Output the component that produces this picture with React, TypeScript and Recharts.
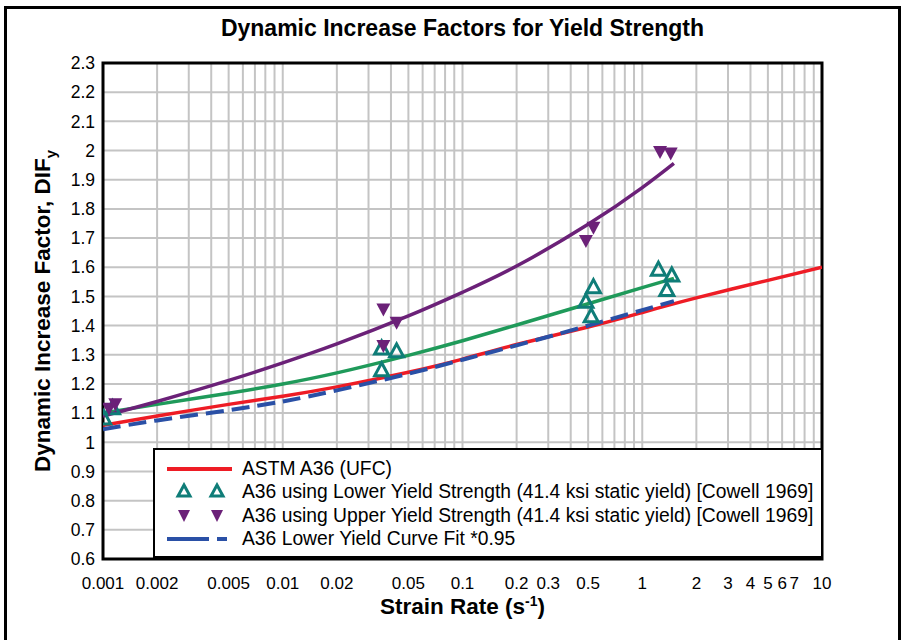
import React from 'react';
import { ComposedChart, Line, Scatter, XAxis, YAxis, CartesianGrid, ReferenceArea, Label } from 'recharts';

// ---- Data ----
const gridRates = [
  0.001, 0.002, 0.003, 0.004, 0.005, 0.006, 0.007, 0.008, 0.009,
  0.01, 0.02, 0.03, 0.04, 0.05, 0.06, 0.07, 0.08, 0.09,
  0.1, 0.2, 0.3, 0.4, 0.5, 0.6, 0.7, 0.8, 0.9,
  1, 2, 3, 4, 5, 6, 7, 8, 9, 10,
];
const xLabelValues = [0.001, 0.002, 0.005, 0.01, 0.02, 0.05, 0.1, 0.2, 0.3, 0.5, 1, 2, 3, 4, 5, 6, 7, 10];
const yTicks = [0.6, 0.7, 0.8, 0.9, 1.0, 1.1, 1.2, 1.3, 1.4, 1.5, 1.6, 1.7, 1.8, 1.9, 2.0, 2.1, 2.2, 2.3];

const ufcRates = [0.001, 0.002, 0.005, 0.01, 0.02, 0.05, 0.1, 0.2, 0.5, 1, 2, 5, 10];
const ufcDIF = [1.058, 1.09, 1.13, 1.158, 1.19, 1.24, 1.285, 1.335, 1.395, 1.445, 1.495, 1.555, 1.6];

const fitRates = [0.001, 0.002, 0.005, 0.01, 0.02, 0.05, 0.1, 0.2, 0.5, 1, 1.5];
const lowerFitDIF = [1.1, 1.13, 1.168, 1.2, 1.238, 1.298, 1.348, 1.402, 1.475, 1.53, 1.562];
const upperFitDIF = [1.09, 1.14, 1.212, 1.272, 1.337, 1.433, 1.514, 1.604, 1.747, 1.873, 1.956];
const lowerFit95DIF = [1.045, 1.075, 1.11, 1.14, 1.178, 1.235, 1.283, 1.332, 1.4, 1.453, 1.484];

const lowerPtRates = [0.00101, 0.00113, 0.0355, 0.043, 0.0355, 0.535, 0.486, 0.52, 1.23, 1.46, 1.37];
const lowerPtDIF = [1.08, 1.115, 1.32, 1.31, 1.245, 1.53, 1.48, 1.43, 1.59, 1.57, 1.52];

const upperPtRates = [0.00108, 0.00117, 0.0363, 0.043, 0.0363, 0.535, 0.486, 1.256, 1.44];
const upperPtDIF = [1.115, 1.13, 1.455, 1.41, 1.33, 1.735, 1.69, 1.995, 1.99];

const legendLabels = [
  'ASTM A36 (UFC)',
  'A36 using Lower Yield Strength (41.4 ksi static yield) [Cowell 1969]',
  'A36 using Upper Yield Strength (41.4 ksi static yield) [Cowell 1969]',
  'A36 Lower Yield Curve Fit *0.95',
];

const toRows = (xs: number[], ys: number[]) => xs.map((x, i) => ({ x, y: ys[i] }));
const ufcData = toRows(ufcRates, ufcDIF);
const lowerFitData = toRows(fitRates, lowerFitDIF);
const upperFitData = toRows(fitRates, upperFitDIF);
const lowerFit95Data = toRows(fitRates, lowerFit95DIF);
const lowerPts = toRows(lowerPtRates, lowerPtDIF);
const upperPts = toRows(upperPtRates, upperPtDIF);

// ---- Styles ----
const FONT = '"Liberation Sans", Arial, sans-serif';
const RED = '#ee1c25';
const GREEN = '#1f9a5a';
const PURPLE = '#6b2178';
const BLUE = '#2a50a6';
const TEAL = '#0f7d78';

const TriUp = (props: any) => {
  const { cx, cy } = props;
  if (cx == null || cy == null) return null;
  return <path d={`M${cx},${cy - 8} L${cx + 7},${cy + 5} L${cx - 7},${cy + 5} Z`} fill="none" stroke={TEAL} strokeWidth={3} strokeLinejoin="miter" />;
};
const TriDown = (props: any) => {
  const { cx, cy } = props;
  if (cx == null || cy == null) return null;
  return <path d={`M${cx - 7},${cy - 6} L${cx + 7},${cy - 6} L${cx},${cy + 7} Z`} fill={PURPLE} />;
};

const LegendRow = ({ idx }: { idx: number }) => {
  let sym: React.ReactNode = null;
  if (idx === 0) sym = <line x1={8} y1={10} x2={73} y2={10} stroke={RED} strokeWidth={4} />;
  if (idx === 1)
    sym = (
      <g>
        <path d="M25,3 L31,14 L19,14 Z" fill="none" stroke={TEAL} strokeWidth={3} />
        <path d="M58,3 L64,14 L52,14 Z" fill="none" stroke={TEAL} strokeWidth={3} />
      </g>
    );
  if (idx === 2)
    sym = (
      <g>
        <path d="M19,4 L31,4 L25,16 Z" fill={PURPLE} />
        <path d="M52,4 L64,4 L58,16 Z" fill={PURPLE} />
      </g>
    );
  if (idx === 3)
    sym = (
      <g>
        <line x1={8} y1={10} x2={50} y2={10} stroke={BLUE} strokeWidth={4} />
        <line x1={58} y1={10} x2={68} y2={10} stroke={BLUE} strokeWidth={4} />
      </g>
    );
  return (
    <div style={{ display: 'flex', alignItems: 'center', height: 23.5 }}>
      <svg width={83} height={20} style={{ flex: 'none' }}>{sym}</svg>
      <span style={{ fontFamily: FONT, fontSize: 19.3, lineHeight: '22px', color: '#000', whiteSpace: 'nowrap' }}>{legendLabels[idx]}</span>
    </div>
  );
};

const xFmt = (v: number) => (xLabelValues.some((l) => Math.abs(l - v) < l * 1e-6) ? String(v) : '');
const yFmt = (v: number) => String(Number(v.toFixed(1)));

export default function App() {
  return (
    <div style={{ position: 'absolute', left: 0, top: 0, width: 902, height: 640, background: '#fff', overflow: 'hidden' }}>
      <div
        style={{
          position: 'absolute', left: 4, top: 6, width: 891, height: 660,
          border: '3px solid #000', boxSizing: 'content-box',
        }}
      />
      <div
        style={{
          position: 'absolute', left: 103, width: 719, top: 13, textAlign: 'center',
          fontFamily: FONT, fontWeight: 'bold', fontSize: 23, lineHeight: '30px', color: '#000',
        }}
      >
        Dynamic Increase Factors for Yield Strength
      </div>
      <div style={{ position: 'absolute', left: 0, top: 0 }}>
        <ComposedChart width={902} height={640} margin={{ top: 63, right: 80, bottom: 51, left: 43 }}>
          <CartesianGrid stroke="#c4c4c4" strokeWidth={2} />
          <XAxis
            dataKey="x"
            type="number"
            scale="log"
            domain={[0.001, 10]}
            allowDataOverflow
            ticks={gridRates}
            interval={0}
            tickFormatter={xFmt}
            tickLine={false}
            axisLine={false}
            tickMargin={12}
            height={30}
            tick={{ fontFamily: FONT, fontSize: 17, fill: '#000' }}
          >
            <Label
              content={(p: any) => {
                const vb = p.viewBox;
                const cx = vb.x + vb.width / 2;
                return (
                  <text x={cx} y={vb.y + 55} textAnchor="middle" fontFamily={FONT} fontWeight="bold" fontSize={22.5} fill="#000">
                    <tspan>Strain Rate (s</tspan>
                    <tspan dy={-8} fontSize={14}>-1</tspan>
                    <tspan dy={8}>)</tspan>
                  </text>
                );
              }}
            />
          </XAxis>
          <YAxis
            type="number"
            domain={[0.6, 2.3]}
            ticks={yTicks}
            interval={0}
            tickFormatter={yFmt}
            tickLine={false}
            axisLine={false}
            tickMargin={2}
            width={60}
            tick={{ fontFamily: FONT, fontSize: 17.5, fill: '#000' }}
          >
            <Label
              content={(p: any) => {
                const vb = p.viewBox;
                const x = vb.x + 7;
                const y = vb.y + vb.height / 2;
                return (
                  <text x={x} y={y} transform={`rotate(-90 ${x} ${y})`} textAnchor="middle" fontFamily={FONT} fontWeight="bold" fontSize={22.5} fill="#000">
                    <tspan>Dynamic Increase Factor, DIF</tspan>
                    <tspan dy={6} fontSize={15}>y</tspan>
                  </text>
                );
              }}
            />
          </YAxis>
          <Line data={ufcData} dataKey="y" type="natural" stroke={RED} strokeWidth={3.5} dot={false} isAnimationActive={false} />
          <Line data={lowerFit95Data} dataKey="y" type="natural" stroke={BLUE} strokeWidth={4} strokeDasharray="18 8" dot={false} isAnimationActive={false} />
          <Line data={lowerFitData} dataKey="y" type="natural" stroke={GREEN} strokeWidth={3.5} dot={false} isAnimationActive={false} />
          <Line data={upperFitData} dataKey="y" type="natural" stroke={PURPLE} strokeWidth={3.5} dot={false} isAnimationActive={false} />
          <Scatter data={lowerPts} dataKey="y" shape={TriUp} isAnimationActive={false} />
          <Scatter data={upperPts} dataKey="y" shape={TriDown} isAnimationActive={false} />
          <ReferenceArea x1={0.001} x2={10} y1={0.6} y2={2.3} fill="none" stroke="#000" strokeWidth={3} ifOverflow="visible" />
        </ComposedChart>
      </div>
      <div
        style={{
          position: 'absolute', left: 153, top: 448, width: 670, height: 110,
          border: '2px solid #000', background: '#fff', paddingTop: 7, boxSizing: 'border-box',
          paddingLeft: 4,
        }}
      >
        {[0, 1, 2, 3].map((i) => (
          <LegendRow key={i} idx={i} />
        ))}
      </div>
    </div>
  );
}
